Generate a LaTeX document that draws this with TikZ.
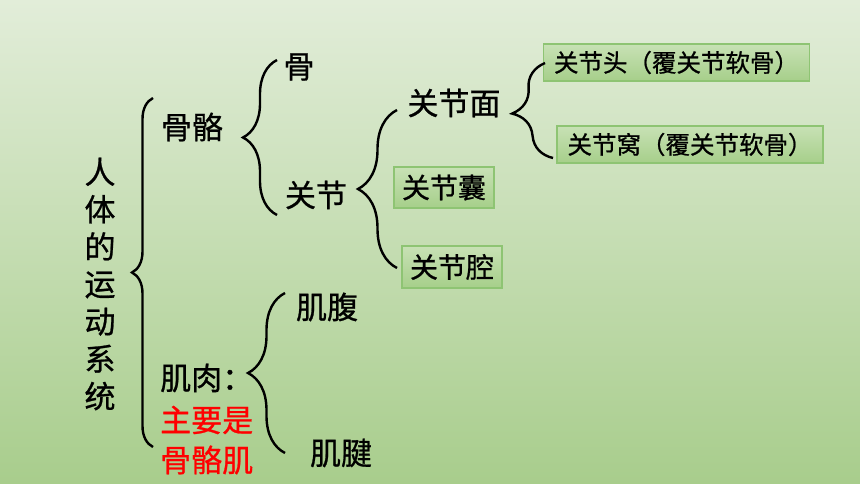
\documentclass[tikz,border=0pt]{standalone}
\usepackage{fontspec}
\setmainfont{Noto Sans CJK SC}[FakeBold=0.8]
\usetikzlibrary{decorations.pathreplacing}
\definecolor{bgtop}{HTML}{E2EDD9}
\definecolor{bgmid}{HTML}{D7E8CB}
\definecolor{bgbottom}{HTML}{A8CD8C}
\definecolor{boxtop}{HTML}{C8E1B5}
\definecolor{boxbottom}{HTML}{A6CF8A}
\definecolor{boxline}{HTML}{8EC473}
\tikzset{
  big/.style={font=\fontsize{31}{37.4}\selectfont, inner sep=0pt},
  small/.style={font=\fontsize{24.5}{28}\selectfont, inner sep=0pt},
  boxed/.style={draw=boxline, line width=1.2pt, top color=boxtop, bottom color=boxbottom, inner sep=0pt},
  curly/.style={decorate, decoration={brace, amplitude=#1}, line width=2.4pt},
}
\begin{document}
\begin{tikzpicture}[x=1pt, y=-1pt]
      \shade[top color=bgtop, middle color=bgmid, bottom color=bgbottom] (0,0) rectangle (860,484);
      \draw
        (100,284) node[big, align=center] (system){人\\体\\的\\运\\动\\系\\统}
        (192,127) node[big] (skeleton){骨骼}
        (299,67) node[big] (bone){骨}
        (316,195) node[big] (joint){关节}
        (454,103) node[big] (surface){关节面}
        (676.5,62.5) node[boxed, small, minimum width=266pt, minimum height=37pt] (head){关节头（覆关节软骨）}
        (690,144.5) node[boxed, small, minimum width=266pt, minimum height=37pt] (socket){关节窝（覆关节软骨）}
        (444,187.5) node[boxed, big, font=\fontsize{28}{32}\selectfont, minimum width=100pt, minimum height=41pt] (capsule){关节囊}
        (452,267) node[boxed, big, font=\fontsize{28}{32}\selectfont, minimum width=100pt, minimum height=42pt] (cavity){关节腔}
        (160,378) node[big, anchor=west] (muscle){肌肉：}
        (160,420) node[big, anchor=west, text=red] (main){主要是}
        (160,460) node[big, anchor=west, text=red] (skmuscle){骨骼肌}
        (327,307) node[big] (belly){肌腹}
        (341,453) node[big] (tendon){肌腱};
      \coordinate (s1) at (153,447); \coordinate (e1) at (153,98);
      \coordinate (s2) at (277,215); \coordinate (e2) at (277,60);
      \coordinate (s3) at (397,268); \coordinate (e3) at (397,110);
      \coordinate (s4) at (553,158); \coordinate (e4) at (545,63);
      \coordinate (s5) at (285,453); \coordinate (e5) at (285,293);
      \begin{scope}
        \draw[curly=21pt] (s1) to (e1);
        \draw[curly=34pt] (s2) to (e2);
        \draw[curly=39pt] (s3) to (e3);
        \draw[curly=37pt] (s4) to (e4);
        \draw[curly=37pt] (s5) to (e5);
      \end{scope}
    \end{tikzpicture}
\end{document}
